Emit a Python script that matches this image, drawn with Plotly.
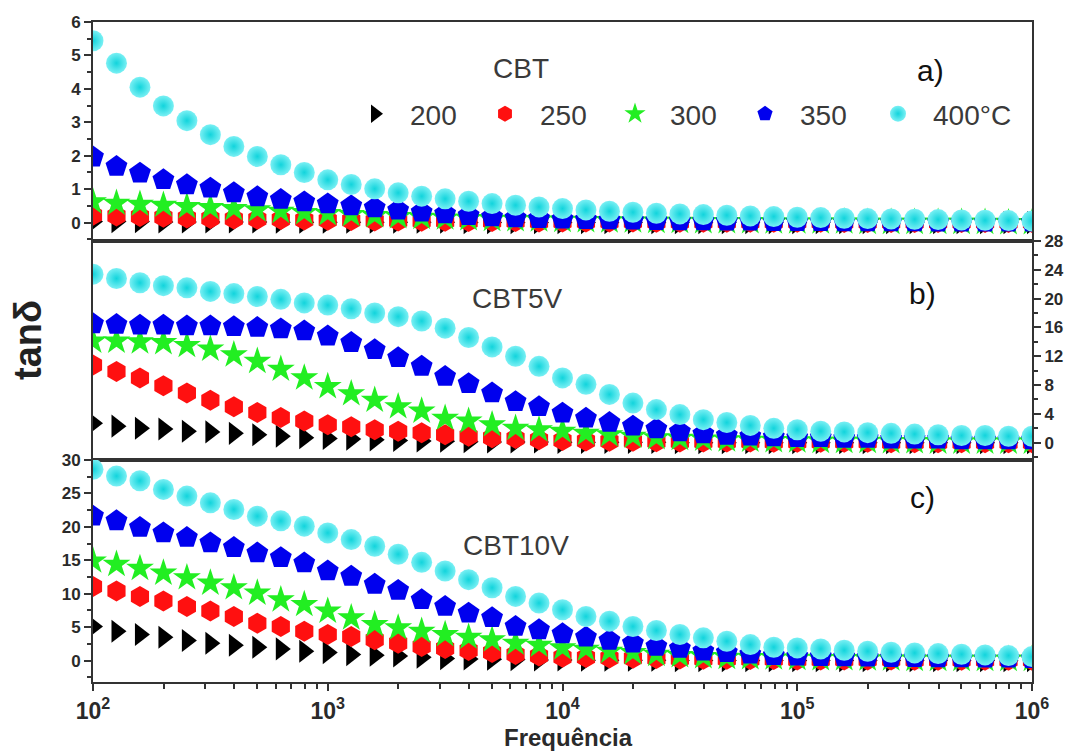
import plotly.graph_objects as go
from plotly.subplots import make_subplots

# ---------------- data ----------------
freq = [100, 125.9, 158.5, 199.5, 251.2, 316.2, 398.1, 501.2, 631.0, 794.3,
        1000, 1259, 1585, 1995, 2512, 3162, 3981, 5012, 6310, 7943,
        10000, 12589, 15849, 19953, 25119, 31623, 39811, 50119, 63096, 79433,
        100000, 125893, 158489, 199526, 251189, 316228, 398107, 501187, 630957, 794328,
        1000000]

temps = ["200", "250", "300", "350", "400°C"]

# Panel a) CBT
cbt_200 = [0.03, 0.03, 0.03, 0.02, 0.02, 0.02, 0.02, 0.02, 0.01, 0.01,
           0.01, 0.01, 0.01, 0.01, 0.01, 0.01, 0.0, 0.0, 0.0, 0.0,
           0.0, 0.0, 0.0, 0.0, 0.0, 0.0, 0.0, 0.0, 0.0, 0.0,
           0.0, 0.0, 0.0, 0.0, 0.0, 0.0, 0.0, 0.0, 0.0, 0.0, 0.0]
cbt_250 = [0.22, 0.20, 0.18, 0.16, 0.14, 0.12, 0.11, 0.10, 0.09, 0.08,
           0.07, 0.06, 0.05, 0.05, 0.04, 0.04, 0.03, 0.03, 0.03, 0.02,
           0.02, 0.02, 0.02, 0.02, 0.01, 0.01, 0.01, 0.01, 0.01, 0.01,
           0.01, 0.01, 0.0, 0.0, 0.0, 0.0, 0.0, 0.0, 0.0, 0.0, 0.0]
cbt_300 = [0.62, 0.58, 0.55, 0.52, 0.48, 0.45, 0.42, 0.38, 0.34, 0.30,
           0.27, 0.24, 0.21, 0.18, 0.16, 0.14, 0.12, 0.10, 0.09, 0.08,
           0.07, 0.06, 0.05, 0.05, 0.04, 0.04, 0.03, 0.03, 0.03, 0.02,
           0.02, 0.02, 0.02, 0.01, 0.01, 0.01, 0.01, 0.01, 0.01, 0.0, 0.0]
cbt_350 = [1.96, 1.68, 1.48, 1.28, 1.13, 1.03, 0.89, 0.77, 0.69, 0.62,
           0.56, 0.50, 0.44, 0.37, 0.31, 0.26, 0.21, 0.17, 0.14, 0.12,
           0.10, 0.09, 0.08, 0.07, 0.06, 0.05, 0.05, 0.04, 0.04, 0.03,
           0.03, 0.03, 0.02, 0.02, 0.02, 0.02, 0.01, 0.01, 0.01, 0.01, 0.01]
cbt_400 = [5.44, 4.77, 4.05, 3.49, 3.05, 2.63, 2.28, 1.98, 1.73, 1.50,
           1.28, 1.14, 1.01, 0.89, 0.79, 0.71, 0.64, 0.57, 0.52, 0.47,
           0.42, 0.38, 0.34, 0.31, 0.28, 0.26, 0.24, 0.22, 0.20, 0.18,
           0.16, 0.15, 0.13, 0.12, 0.11, 0.10, 0.09, 0.08, 0.07, 0.06, 0.05]

# Panel b) CBT5V
cbt5v_200 = [2.7, 2.3, 2.0, 1.9, 1.6, 1.5, 1.3, 1.1, 0.9, 0.7,
             0.6, 0.5, 0.4, 0.3, 0.25, 0.2, 0.15, 0.1, 0.1, 0.1,
             0.05, 0.05, 0.05, 0.05, 0.05, 0.0, 0.0, 0.0, 0.0, 0.0,
             0.0, 0.0, 0.0, 0.0, 0.0, 0.0, 0.0, 0.0, 0.0, 0.0, 0.0]
cbt5v_250 = [10.8, 9.9, 9.0, 7.9, 6.9, 5.9, 5.0, 4.2, 3.5, 3.0,
             2.5, 2.2, 1.8, 1.6, 1.4, 1.1, 0.9, 0.7, 0.6, 0.4,
             0.3, 0.25, 0.2, 0.2, 0.15, 0.1, 0.1, 0.1, 0.1, 0.05,
             0.05, 0.05, 0.05, 0.05, 0.0, 0.0, 0.0, 0.0, 0.0, 0.0, 0.0]
cbt5v_300 = [14.1, 14.1, 14.0, 13.9, 13.5, 13.0, 12.2, 11.3, 10.2, 9.0,
             7.8, 6.8, 5.9, 5.0, 4.4, 3.4, 3.0, 2.5, 2.0, 1.8,
             1.6, 1.3, 1.1, 0.9, 0.7, 0.6, 0.5, 0.4, 0.35, 0.3,
             0.25, 0.2, 0.2, 0.2, 0.15, 0.15, 0.1, 0.1, 0.1, 0.1, 0.1]
cbt5v_350 = [16.5, 16.4, 16.3, 16.3, 16.2, 16.2, 16.1, 16.0, 15.8, 15.5,
             14.8, 13.9, 12.9, 11.8, 10.6, 9.2, 8.2, 6.9, 5.7, 5.0,
             4.1, 3.4, 2.8, 2.3, 1.9, 1.5, 1.2, 1.0, 0.9, 0.8,
             0.7, 0.7, 0.6, 0.6, 0.5, 0.5, 0.5, 0.4, 0.4, 0.4, 0.4]
cbt5v_400 = [23.4, 22.8, 22.2, 21.8, 21.5, 21.0, 20.7, 20.3, 19.9, 19.4,
             19.1, 18.6, 18.0, 17.5, 16.9, 15.9, 14.6, 13.3, 12.0, 10.6,
             9.0, 8.1, 6.7, 5.5, 4.6, 3.9, 3.2, 2.8, 2.4, 2.0,
             1.8, 1.6, 1.5, 1.4, 1.3, 1.2, 1.1, 1.0, 1.0, 0.9, 0.9]

# Panel c) CBT10V
cbt10v_200 = [5.1, 4.4, 3.9, 3.5, 3.0, 2.6, 2.3, 2.0, 1.75, 1.4,
              1.2, 0.9, 0.8, 0.7, 0.5, 0.3, 0.25, 0.2, 0.15, 0.1,
              0.1, 0.05, 0.05, 0.05, 0.05, 0.0, 0.0, 0.0, 0.0, 0.0,
              0.0, 0.0, 0.0, 0.0, 0.0, 0.0, 0.0, 0.0, 0.0, 0.0, 0.0]
cbt10v_250 = [11.1, 10.4, 9.6, 8.9, 8.1, 7.4, 6.6, 5.6, 5.1, 4.4,
              3.9, 3.6, 3.1, 2.6, 2.1, 1.8, 1.5, 1.2, 0.9, 0.7,
              0.5, 0.45, 0.4, 0.35, 0.3, 0.25, 0.2, 0.2, 0.15, 0.15,
              0.1, 0.1, 0.1, 0.1, 0.1, 0.05, 0.05, 0.05, 0.05, 0.05, 0.05]
cbt10v_300 = [14.9, 14.4, 13.8, 13.1, 12.4, 11.6, 10.9, 10.1, 9.1, 8.4,
              7.4, 6.4, 5.4, 4.9, 4.4, 3.9, 3.5, 3.1, 2.6, 2.3,
              1.9, 1.7, 1.4, 1.2, 0.95, 0.75, 0.6, 0.5, 0.45, 0.4,
              0.35, 0.3, 0.3, 0.25, 0.25, 0.2, 0.2, 0.2, 0.2, 0.2, 0.2]
cbt10v_350 = [21.6, 20.9, 19.9, 19.1, 18.4, 17.6, 16.9, 16.1, 15.4, 14.6,
              13.4, 12.6, 11.4, 10.5, 9.1, 8.1, 7.1, 6.4, 5.1, 4.6,
              4.0, 3.5, 3.0, 2.6, 2.1, 1.8, 1.4, 1.2, 0.95, 0.75,
              0.65, 0.6, 0.55, 0.5, 0.45, 0.45, 0.4, 0.4, 0.35, 0.35, 0.3]
cbt10v_400 = [28.6, 27.6, 26.9, 25.6, 24.6, 23.6, 22.6, 21.6, 20.9, 20.1,
              19.1, 18.1, 17.1, 15.9, 14.7, 13.4, 12.1, 10.9, 9.6, 8.6,
              7.6, 6.6, 5.9, 5.1, 4.5, 3.9, 3.4, 2.9, 2.4, 2.0,
              1.9, 1.75, 1.55, 1.4, 1.25, 1.15, 1.05, 0.95, 0.85, 0.75, 0.6]

panel_names = ["CBT", "CBT5V", "CBT10V"]
panel_letters = ["a)", "b)", "c)"]
panel_series = [
    [cbt_200, cbt_250, cbt_300, cbt_350, cbt_400],
    [cbt5v_200, cbt5v_250, cbt5v_300, cbt5v_350, cbt5v_400],
    [cbt10v_200, cbt10v_250, cbt10v_300, cbt10v_350, cbt10v_400],
]

x_tickvals = [1e2, 1e3, 1e4, 1e5, 1e6]
x_ticktext = ["10<sup>2</sup>", "10<sup>3</sup>", "10<sup>4</sup>", "10<sup>5</sup>", "10<sup>6</sup>"]

# ---------------- style ----------------
symbols = ["triangle-right", "hexagon", "star", "pentagon", "circle"]
colors = ["#000000", "#ff1010", "#22ee22", "#0000ee", "#3fe6ec"]
sizes = [20, 21, 21, 23, 21]
FONT = "Liberation Sans, Arial, sans-serif"
AX = "#333333"

W, H = 1079, 751
ML, MR, MT, MB = 93, 47, 22, 69
PH = H - MT - MB  # 660

fig = make_subplots(rows=3, cols=1, shared_xaxes=True, vertical_spacing=0)

for r, series in enumerate(panel_series, start=1):
    for k, ys in enumerate(series):
        marker = dict(symbol=symbols[k], size=sizes[k], color=colors[k], line=dict(width=0))
        if k == 4:
            marker["gradient"] = dict(type="radial", color="#12d4dc")
            marker["color"] = "#7af0f4"
        fig.add_trace(go.Scatter(
            x=freq, y=ys, mode="markers", marker=marker,
            name=temps[k], showlegend=(r == 1),
            legend=("legend2" if k == 4 else "legend"),
        ), row=r, col=1)


def fy(py):
    return (H - MB - py) / PH


def px_x(px):
    return (px - ML) / (W - ML - MR)


doms = [(fy(241), 1.0), (fy(460), fy(241)), (0.0, fy(460))]

minor_x = [m * 10 ** e for e in range(2, 6) for m in range(2, 10)]

for r in range(1, 4):
    xa = "xaxis" if r == 1 else f"xaxis{r}"
    common = dict(type="log", range=[2, 6], showline=True, linecolor=AX, linewidth=2,
                  mirror=True, showgrid=False, zeroline=False)
    if r == 3:
        common.update(tickvals=x_tickvals, ticktext=x_ticktext, ticks="outside", ticklen=7,
                      tickwidth=2, tickcolor=AX, showticklabels=True,
                      tickfont=dict(family=FONT, size=23, color="#2a2a2a", weight="bold"),
                      minor=dict(tickvals=minor_x, ticks="outside", ticklen=5, tickwidth=2, tickcolor=AX))
    else:
        common.update(ticks="", showticklabels=False)
    fig.layout[xa].update(**common)

yfont = dict(family=FONT, size=17, color="#2a2a2a", weight="bold")
fig.update_layout(
    yaxis=dict(domain=doms[0], range=[-0.55, 6], tickvals=[0, 1, 2, 3, 4, 5, 6],
               ticks="outside", ticklen=7, tickwidth=2, tickcolor=AX,
               minor=dict(dtick=0.5, ticks="outside", ticklen=4, tickwidth=2, tickcolor=AX),
               showline=True, linecolor=AX, linewidth=2, mirror=True,
               showgrid=False, zeroline=False, tickfont=yfont),
    yaxis2=dict(domain=doms[1], range=[-2.4, 28], side="right",
                tickvals=[0, 4, 8, 12, 16, 20, 24, 28],
                ticks="outside", ticklen=7, tickwidth=2, tickcolor=AX,
                minor=dict(dtick=2, ticks="outside", ticklen=4, tickwidth=2, tickcolor=AX),
                showline=True, linecolor=AX, linewidth=2, mirror=True,
                showgrid=False, zeroline=False, tickfont=yfont),
    yaxis3=dict(domain=doms[2], range=[-3.2, 30], tickvals=[0, 5, 10, 15, 20, 25, 30],
                ticks="outside", ticklen=7, tickwidth=2, tickcolor=AX,
                minor=dict(dtick=2.5, ticks="outside", ticklen=4, tickwidth=2, tickcolor=AX),
                showline=True, linecolor=AX, linewidth=2, mirror=True,
                showgrid=False, zeroline=False, tickfont=yfont),
)

annotations = []
name_pos = [(521, 68), (517, 298), (516, 545)]
letter_pos = [(930, 71), (922, 293), (922, 497)]
for i in range(3):
    annotations.append(dict(text=panel_names[i], x=px_x(name_pos[i][0]), y=fy(name_pos[i][1]),
                            xref="paper", yref="paper", showarrow=False,
                            xanchor="center", yanchor="middle",
                            font=dict(family=FONT, size=28, color="#3a3a3a")))
    annotations.append(dict(text=panel_letters[i], x=px_x(letter_pos[i][0]), y=fy(letter_pos[i][1]),
                            xref="paper", yref="paper", showarrow=False,
                            xanchor="center", yanchor="middle",
                            font=dict(family=FONT, size=30, color="#111111")))
annotations.append(dict(text="tanδ", x=px_x(28), y=fy(340), xref="paper", yref="paper",
                        showarrow=False, textangle=-90, xanchor="center", yanchor="middle",
                        font=dict(family=FONT, size=38, color="#222222", weight="bold")))
annotations.append(dict(text="Frequência", x=px_x(568), y=fy(737), xref="paper", yref="paper",
                        showarrow=False, xanchor="center", yanchor="middle",
                        font=dict(family=FONT, size=24, color="#2a2a2a", weight="bold")))

legend_common = dict(orientation="h", yanchor="middle", xanchor="left",
                     bgcolor="rgba(0,0,0,0)", borderwidth=0,
                     font=dict(family=FONT, size=28, color="#3a3a3a"),
                     itemwidth=60, itemsizing="trace")

fig.update_layout(
    width=W, height=H,
    margin=dict(l=ML, r=MR, t=MT, b=MB),
    paper_bgcolor="white", plot_bgcolor="white",
    annotations=annotations,
    showlegend=True,
    legend=dict(x=px_x(340), y=fy(114), entrywidth=55, entrywidthmode="pixels", **legend_common),
    legend2=dict(x=px_x(863), y=fy(114), **legend_common),
)

fig.write_html("out.html",
               config={"displayModeBar": False, "staticPlot": True},
               post_script="document.body.style.margin='0px';document.body.style.overflow='hidden';")
